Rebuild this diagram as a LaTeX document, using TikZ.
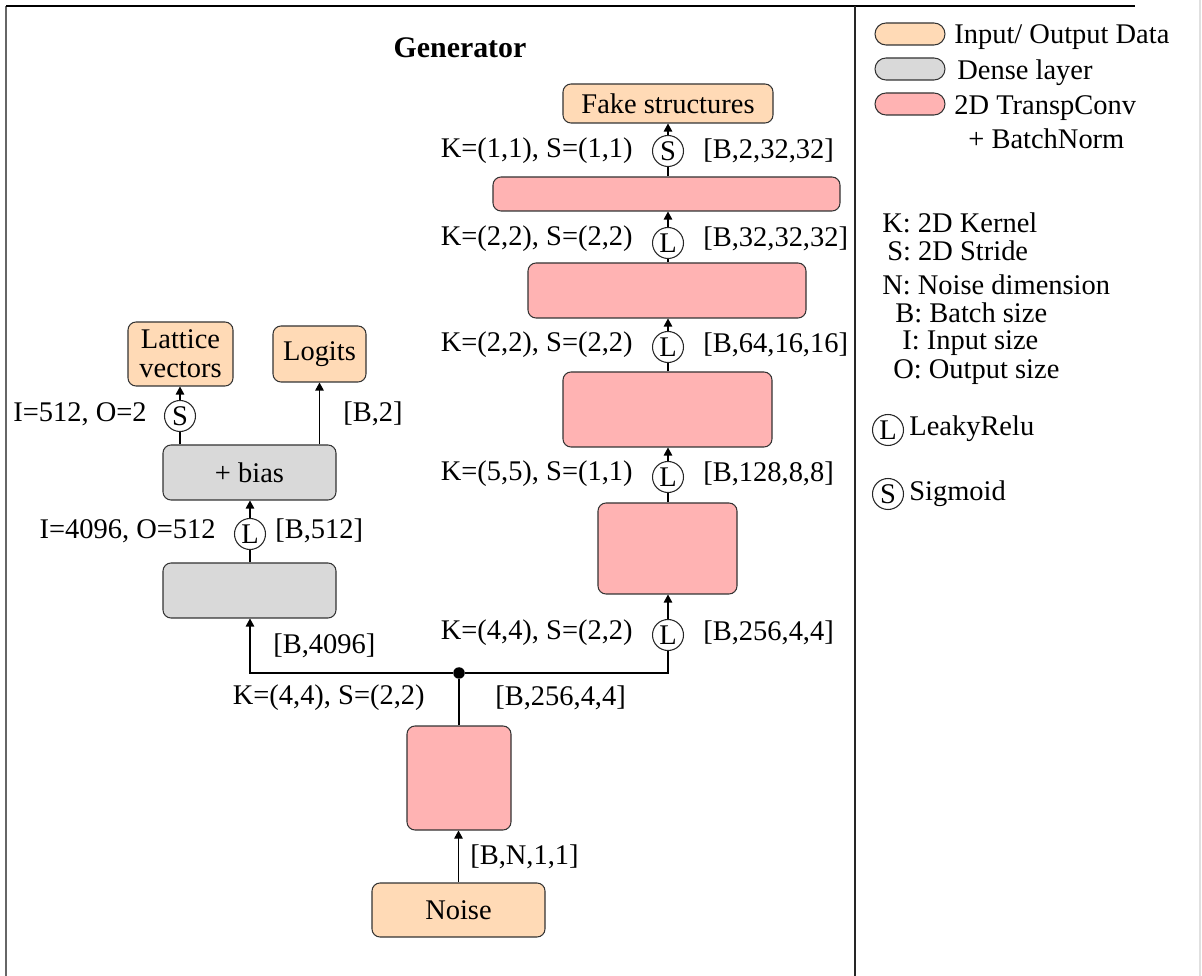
\documentclass[tikz,border=0pt]{standalone}
\usepackage{fontspec}
\setmainfont{Liberation Serif}
\usetikzlibrary{arrows.meta}
\definecolor{ioc}{RGB}{255,218,182}
\definecolor{densec}{RGB}{217,217,217}
\definecolor{convc}{RGB}{255,179,179}
% box given by its corners: name, style, x1, y1, x2, y2, text
\newcommand\mkbox[7]{\node[#2, minimum width={(#5-#3)*0.2mm}, minimum height={(#6-#4)*0.2mm}] (#1) at ({(#3+#5)/2},{(#4+#6)/2}) {#7};}
\begin{document}
\begin{tikzpicture}[x=0.2mm,y=-0.2mm,
  base/.style={font=\fontsize{16.2}{16.5}\selectfont},
  blk/.style={draw=black!80, line width=0.6pt, rounded corners=1.6mm, inner sep=0pt, align=center, base},
  io/.style={blk, fill=ioc},
  dense/.style={blk, fill=densec},
  conv/.style={blk, fill=convc},
  pill/.style={draw=black!80, line width=0.6pt, rounded corners=2.2mm, minimum width=14mm, minimum height=4.4mm, inner sep=0pt},
  act/.style={circle, draw=black!85, line width=0.6pt, fill=white, minimum size=6.2mm, inner sep=0pt, base},
  lab/.style={inner sep=0pt, base},
  wire/.style={line width=0.6pt, black},
  flow/.style={wire, -{Triangle[length=1.6mm,width=1.7mm]}},
]
\useasboundingbox (0,0) rectangle (1202,976);

% frame
\draw[black!60, line width=1pt] (6,976) -- (6,6);
\draw[black, line width=0.9pt] (6,6) -- (1135,6);
\draw[black!85, line width=1pt] (855,6) -- (855,976);
\draw[black!12, line width=0.6pt] (1200,0) -- (1200,976);

\node[lab, font=\fontsize{17}{18}\selectfont\bfseries] (title) at (460,48) {Generator};

% main branch: noise through transposed convolutions
\mkbox{noise}{io}{372}{883}{545}{937}{Noise}
\mkbox{c0}{conv}{407}{726}{511}{830}{}
\node[circle, fill=black, inner sep=0pt, minimum size=2.3mm] (jn) at (459,673) {};
\node[act] (l1) at (668,635) {L};
\mkbox{c1}{conv}{598}{503}{737}{594}{}
\node[act] (l2) at (668,477) {L};
\mkbox{c2}{conv}{563}{372}{772}{447}{}
\node[act] (l3) at (668,347) {L};
\mkbox{c3}{conv}{528}{263}{806}{318}{}
\node[act] (l4) at (668,243) {L};
\mkbox{c4}{conv}{493}{177}{840}{211}{}
\node[act] (s1) at (668,151) {S};
\mkbox{fake}{io}{563}{84}{773}{123}{Fake structures}

% dense branch
\mkbox{d1}{dense}{163}{563}{336}{618}{}
\node[act] (ld) at (250,534) {L};
\mkbox{bias}{dense}{163}{445}{336}{500}{+ bias}
\node[act] (sd) at (180,416) {S};
\mkbox{lat}{io}{128}{322}{233}{386}{Lattice\\vectors}
\mkbox{logits}{io}{273}{326}{366}{382}{Logits}

% connectors
\draw[flow] (noise.north) -- (noise.north |- c0.south);
\draw[wire] (c0.north) -- (jn);
\draw[wire] (jn) -| (l1.south);
\draw[flow] (l1.north) -- (l1.north |- c1.south);
\draw[wire] (l2.south |- c1.north) -- (l2.south);
\draw[flow] (l2.north) -- (l2.north |- c2.south);
\draw[wire] (l3.south |- c2.north) -- (l3.south);
\draw[flow] (l3.north) -- (l3.north |- c3.south);
\draw[wire] (l4.south |- c3.north) -- (l4.south);
\draw[flow] (l4.north) -- (l4.north |- c4.south);
\draw[wire] (s1.south |- c4.north) -- (s1.south);
\draw[flow] (s1.north) -- (s1.north |- fake.south);

\draw[flow] (jn) -| (ld.south |- d1.south);
\draw[wire] (ld.south |- d1.north) -- (ld.south);
\draw[flow] (ld.north) -- (ld.north |- bias.south);
\draw[wire] (sd.south |- bias.north) -- (sd.south);
\draw[flow] (sd.north) -- (sd.north |- lat.south);
\draw[flow] (logits.south |- bias.north) -- (logits.south);

% layer labels
\node[lab, anchor=east] (k0) at (425,698) {K=(4,4), S=(2,2)};
\node[lab, anchor=west] (o0) at (495,698) {[B,256,4,4]};
\node[lab, anchor=west] (i0) at (470,857) {[B,N,1,1]};
\node[lab, anchor=east] (k1) at (633,633) {K=(4,4), S=(2,2)};
\node[lab, anchor=west] (o1) at (703,633) {[B,256,4,4]};
\node[lab, anchor=east] (k2) at (633,474) {K=(5,5), S=(1,1)};
\node[lab, anchor=west] (o2) at (703,474) {[B,128,8,8]};
\node[lab, anchor=east] (k3) at (633,345) {K=(2,2), S=(2,2)};
\node[lab, anchor=west] (o3) at (703,345) {[B,64,16,16]};
\node[lab, anchor=east] (k4) at (633,239) {K=(2,2), S=(2,2)};
\node[lab, anchor=west] (o4) at (703,239) {[B,32,32,32]};
\node[lab, anchor=east] (k5) at (633,151) {K=(1,1), S=(1,1)};
\node[lab, anchor=west] (o5) at (703,151) {[B,2,32,32]};

\node[lab, anchor=west] (od) at (273,646) {[B,4096]};
\node[lab, anchor=east] (kd1) at (216,531) {I=4096, O=512};
\node[lab, anchor=west] (od1) at (275,531) {[B,512]};
\node[lab, anchor=east] (kd2) at (147,414) {I=512, O=2};
\node[lab, anchor=west] (od2) at (343,414) {[B,2]};

% legend
\node[pill, fill=ioc] (lg1) at (910,34) {};
\node[lab, anchor=west] (lt1) at (954,37) {Input/ Output Data};
\node[pill, fill=densec] (lg2) at (910,69) {};
\node[lab, anchor=west] (lt2) at (957,73) {Dense layer};
\node[pill, fill=convc] (lg3) at (910,104) {};
\node[lab, anchor=west] (lt3) at (954,108) {2D TranspConv};
\node[lab, anchor=west] (lt4) at (968,139) {+ BatchNorm};

\node[lab, anchor=west] (kk) at (882,223) {K: 2D Kernel};
\node[lab, anchor=west] (ks) at (887,251) {S: 2D Stride};
\node[lab, anchor=west] (kn) at (882,285) {N: Noise dimension};
\node[lab, anchor=west] (kb) at (895,313) {B: Batch size};
\node[lab, anchor=west] (ki) at (902,343) {I: Input size};
\node[lab, anchor=west] (ko) at (893,372) {O: Output size};

\node[act] (lgl) at (888,430) {L};
\node[lab, anchor=west] (ltl) at (909,429) {LeakyRelu};
\node[act] (lgs) at (888,494) {S};
\node[lab, anchor=west] (lts) at (909,494) {Sigmoid};
\end{tikzpicture}
\end{document}
